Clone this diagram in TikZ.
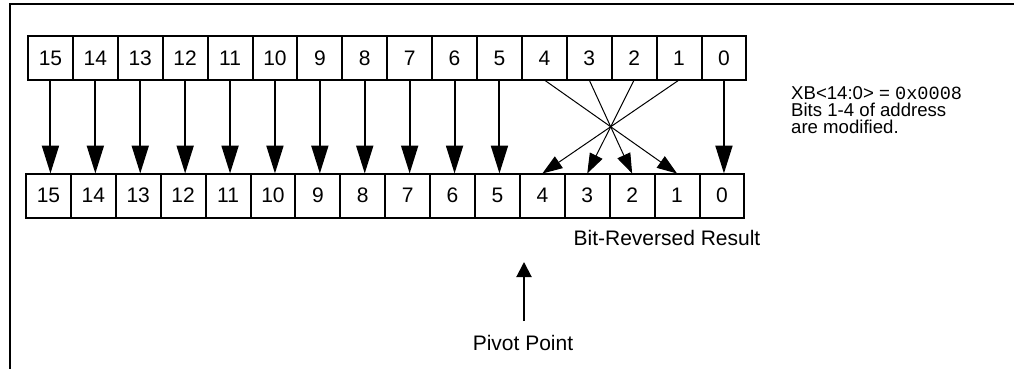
\documentclass[tikz,border=0pt]{standalone}
\usepackage{fontspec}
\setmainfont{Liberation Sans}
\setmonofont{Liberation Mono}
\usetikzlibrary{arrows.meta}
\begin{document}
\begin{tikzpicture}[x=1pt,y=-1pt,
  cell/.style={draw,line width=2pt,minimum width=44.9pt,minimum height=44pt,inner sep=0pt,outer sep=0pt,font=\fontsize{21}{23}\selectfont},
  bigarrow/.style={line width=2pt,-{Triangle[length=28pt,width=17pt]}},
  crossarrow/.style={line width=1pt,-{Triangle[length=20pt,width=14pt]}},
  pivarrow/.style={line width=2pt,-{Triangle[length=15pt,width=15pt]}},
  lbl/.style={font=\fontsize{21}{23}\selectfont,inner sep=0pt}]
\useasboundingbox (0,0) rectangle (1014,369);
\draw[line width=2pt] (10,369) -- (10,4) -- (1014,4);
\foreach \i in {0,...,15} {
  \node[cell] (t\i) at ({28+44.9*(15-\i)+22.45}, 58) {\i};
  \node[cell] (b\i) at ({26+44.9*(15-\i)+22.45}, 195.5) {\i};
}
\foreach \i in {0,5,6,...,15} {
  \draw[bigarrow] (t\i.south) -- (t\i.south |- b\i.north);
}
\foreach \a/\b in {4/1,3/2,2/3,1/4} {
  \draw[crossarrow] (t\a.south) -- (b\b.north);
}
\node[lbl] (res) at (667,238) {Bit-Reversed Result};
\node[lbl] (pivot) at (523,343) {Pivot Point};
\coordinate (pp) at (524,262);
\draw[pivarrow] ([yshift=14pt]pivot.north -| pp) -- (pp);
\node[lbl, anchor=west, align=left, font=\fontsize{18.6}{17}\selectfont] (note) at (791,110) {XB<14:0> = \texttt{0x0008}\\Bits 1-4 of address\\are modified.};
\end{tikzpicture}
\end{document}
